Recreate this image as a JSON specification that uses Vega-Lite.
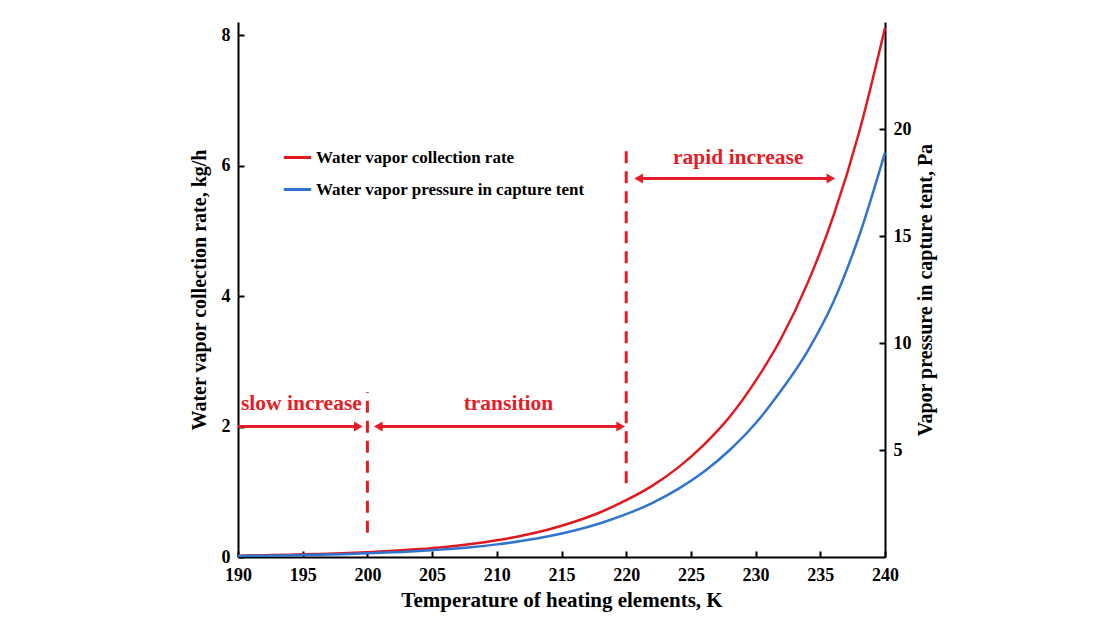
{
  "$schema": "https://vega.github.io/schema/vega-lite/v6.json",
  "width": 647,
  "height": 535,
  "autosize": "none",
  "padding": {"left": 238, "top": 22, "right": 235, "bottom": 73},
  "background": "white",
  "config": {
    "view": {"stroke": null},
    "font": "Liberation Serif",
    "axis": {
      "grid": false,
      "domainColor": "black",
      "domainWidth": 2,
      "tickColor": "black",
      "tickWidth": 2,
      "tickSize": -6,
      "labelFlush": false,
      "labelOverlap": false,
      "labelFont": "Liberation Serif",
      "labelFontWeight": "bold",
      "labelFontSize": 18,
      "labelColor": "black",
      "titleFont": "Liberation Serif",
      "titleFontWeight": "bold",
      "titleFontSize": 20,
      "titleColor": "black"
    },
    "legend": {
      "labelFont": "Liberation Serif",
      "labelFontWeight": "bold",
      "labelFontSize": 17,
      "labelColor": "black",
      "labelLimit": 0
    }
  },
  "datasets": {
    "curves": [
      {"T": 190, "rate": 0.021, "pressure": 0.05},
      {"T": 192, "rate": 0.027, "pressure": 0.06},
      {"T": 194, "rate": 0.035, "pressure": 0.08},
      {"T": 196, "rate": 0.045, "pressure": 0.10},
      {"T": 198, "rate": 0.057, "pressure": 0.13},
      {"T": 200, "rate": 0.073, "pressure": 0.17},
      {"T": 202, "rate": 0.094, "pressure": 0.22},
      {"T": 204, "rate": 0.121, "pressure": 0.28},
      {"T": 206, "rate": 0.155, "pressure": 0.36},
      {"T": 208, "rate": 0.199, "pressure": 0.46},
      {"T": 210, "rate": 0.256, "pressure": 0.59},
      {"T": 212, "rate": 0.329, "pressure": 0.76},
      {"T": 214, "rate": 0.422, "pressure": 0.97},
      {"T": 216, "rate": 0.54, "pressure": 1.24},
      {"T": 218, "rate": 0.686, "pressure": 1.58},
      {"T": 220, "rate": 0.87, "pressure": 2.0},
      {"T": 222, "rate": 1.09, "pressure": 2.52},
      {"T": 224, "rate": 1.37, "pressure": 3.17},
      {"T": 226, "rate": 1.72, "pressure": 3.98},
      {"T": 228, "rate": 2.15, "pressure": 5.0},
      {"T": 230, "rate": 2.70, "pressure": 6.25},
      {"T": 232, "rate": 3.36, "pressure": 7.8},
      {"T": 234, "rate": 4.19, "pressure": 9.6},
      {"T": 236, "rate": 5.22, "pressure": 11.9},
      {"T": 238, "rate": 6.51, "pressure": 15.0},
      {"T": 240, "rate": 8.11, "pressure": 18.9}
    ],
    "dashes": [
      {"T": 200, "y1": 0.37, "y2": 2.53},
      {"T": 220, "y1": 1.13, "y2": 6.27}
    ],
    "arrows": [
      {"x1": 190, "x2": 199.3, "y": 2.0},
      {"x1": 200.84, "x2": 219.57, "y": 2.0},
      {"x1": 220.96, "x2": 235.82, "y": 5.8}
    ],
    "heads": [
      {"T": 199.3, "y": 2.0, "dir": "right"},
      {"T": 200.84, "y": 2.0, "dir": "left"},
      {"T": 219.57, "y": 2.0, "dir": "right"},
      {"T": 220.96, "y": 5.8, "dir": "left"},
      {"T": 235.82, "y": 5.8, "dir": "right"}
    ],
    "labels": [
      {"T": 194.9, "y": 2.35, "text": "slow increase"},
      {"T": 210.9, "y": 2.35, "text": "transition"},
      {"T": 228.66, "y": 6.12, "text": "rapid increase"}
    ]
  },
  "layer": [
    {
      "layer": [
        {
          "data": {"name": "curves"},
          "mark": {"type": "line", "strokeWidth": 2.5, "interpolate": "monotone"},
          "encoding": {
            "x": {"field": "T", "type": "quantitative", "scale": {"domain": [190, 240], "nice": false},
              "axis": {"values": [190, 195, 200, 205, 210, 215, 220, 225, 230, 235, 240], "format": "d", "title": "Temperature of heating elements, K", "titleFontSize": 21, "labelPadding": 15, "titlePadding": 5}},
            "y": {"field": "rate", "type": "quantitative", "scale": {"domain": [0, 8.2], "nice": false},
              "axis": {"values": [0, 2, 4, 6, 8], "format": "d", "title": "Water vapor collection rate, kg/h", "labelPadding": 14, "titlePadding": 12}},
            "color": {"datum": "Water vapor collection rate", "type": "nominal",
              "scale": {"domain": ["Water vapor collection rate", "Water vapor pressure in capture tent"], "range": ["#e0191f", "#2f74cf"]},
              "legend": {"title": null, "orient": "none", "legendX": 44, "legendY": 120, "symbolType": "stroke", "symbolStrokeWidth": 3, "symbolSize": 750, "rowPadding": 8, "labelOffset": 3}}
          }
        },
        {
          "data": {"name": "dashes"},
          "mark": {"type": "rule", "color": "#e41e26", "strokeWidth": 3, "strokeDash": [12, 8]},
          "encoding": {
            "x": {"field": "T", "type": "quantitative"},
            "y": {"field": "y1", "type": "quantitative"},
            "y2": {"field": "y2"}
          }
        },
        {
          "data": {"name": "arrows"},
          "mark": {"type": "rule", "color": "#e41e26", "strokeWidth": 3},
          "encoding": {
            "x": {"field": "x1", "type": "quantitative"},
            "x2": {"field": "x2"},
            "y": {"field": "y", "type": "quantitative"}
          }
        },
        {
          "data": {"name": "heads"},
          "transform": [{"filter": "datum.dir === 'right'"}],
          "mark": {"type": "point", "shape": "triangle-right", "filled": true, "color": "#e41e26", "size": 100, "opacity": 1},
          "encoding": {
            "x": {"field": "T", "type": "quantitative"},
            "y": {"field": "y", "type": "quantitative"}
          }
        },
        {
          "data": {"name": "heads"},
          "transform": [{"filter": "datum.dir === 'left'"}],
          "mark": {"type": "point", "shape": "triangle-left", "filled": true, "color": "#e41e26", "size": 100, "opacity": 1},
          "encoding": {
            "x": {"field": "T", "type": "quantitative"},
            "y": {"field": "y", "type": "quantitative"}
          }
        },
        {
          "data": {"name": "labels"},
          "mark": {"type": "text", "color": "#e41e26", "font": "Liberation Serif", "fontWeight": "bold", "fontSize": 21.5, "align": "center", "baseline": "middle"},
          "encoding": {
            "x": {"field": "T", "type": "quantitative"},
            "y": {"field": "y", "type": "quantitative"},
            "text": {"field": "text"}
          }
        }
      ]
    },
    {
      "data": {"name": "curves"},
      "mark": {"type": "line", "strokeWidth": 2.5, "interpolate": "monotone"},
      "encoding": {
        "x": {"field": "T", "type": "quantitative"},
        "y": {"field": "pressure", "type": "quantitative", "scale": {"domain": [0, 25], "nice": false},
          "axis": {"orient": "right", "values": [5, 10, 15, 20], "format": "d", "title": "Vapor pressure in capture tent, Pa", "titleAngle": 270, "labelPadding": 14, "titlePadding": 24}},
        "color": {"datum": "Water vapor pressure in capture tent", "type": "nominal"}
      }
    }
  ],
  "resolve": {"scale": {"y": "independent"}}
}
